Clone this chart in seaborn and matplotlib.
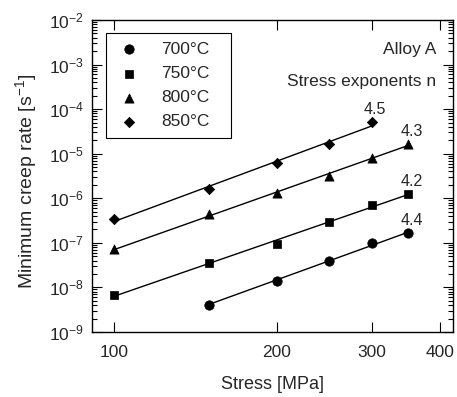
import numpy as np
import pandas as pd
import matplotlib
matplotlib.use("Agg")
import matplotlib.pyplot as plt
import matplotlib.ticker as mticker
import seaborn as sns

# Minimum creep rate vs. applied stress, per test temperature
temps = ["700°C", "750°C", "800°C", "850°C"]
exponents = [4.4, 4.2, 4.3, 4.5]

stress_700 = [150, 200, 250, 300, 350]
rate_700 = [4.1e-9, 1.43e-8, 4.0e-8, 9.8e-8, 1.66e-7]

stress_750 = [100, 150, 200, 250, 300, 350]
rate_750 = [6.8e-9, 3.6e-8, 9.3e-8, 2.9e-7, 7.2e-7, 1.26e-6]

stress_800 = [100, 150, 200, 250, 300, 350]
rate_800 = [7.3e-8, 4.4e-7, 1.3e-6, 3.2e-6, 7.9e-6, 1.66e-5]

stress_850 = [100, 150, 200, 250, 300]
rate_850 = [3.5e-7, 1.65e-6, 6.1e-6, 1.66e-5, 5.2e-5]

stress_sets = [stress_700, stress_750, stress_800, stress_850]
rate_sets = [rate_700, rate_750, rate_800, rate_850]
markers = ["o", "s", "^", "D"]
marker_sizes = [46, 34, 44, 28]

x_ticks = [100, 200, 300, 400]

sns.set_style("ticks")
plt.rcParams["font.family"] = ["Liberation Sans", "DejaVu Sans"]
plt.rcParams["mathtext.fontset"] = "custom"
plt.rcParams["mathtext.rm"] = "Liberation Sans"
plt.rcParams["mathtext.it"] = "Liberation Sans:italic"
plt.rcParams["mathtext.default"] = "regular"

fig = plt.figure(figsize=(4.57, 3.97), dpi=100)
ax = fig.add_axes([0.2013, 0.1637, 0.7899, 0.7859])

for temp, n, xs, ys, mk, ms in zip(temps, exponents, stress_sets, rate_sets,
                                   markers, marker_sizes):
    xs = np.asarray(xs, dtype=float)
    ys = np.asarray(ys, dtype=float)
    # power-law line with the stated stress exponent, intercept fitted in log space
    log_a = np.mean(np.log10(ys) - n * np.log10(xs))
    xl = np.array([xs.min(), xs.max()])
    line_df = pd.DataFrame({"stress": xl, "rate": 10 ** log_a * xl ** n})
    sns.lineplot(data=line_df, x="stress", y="rate", ax=ax, color="black",
                 lw=1.0, legend=False)
    pts = pd.DataFrame({"stress": xs, "rate": ys})
    sns.scatterplot(data=pts, x="stress", y="rate", ax=ax, marker=mk, s=ms,
                    color="black", edgecolor="black", linewidth=0.5,
                    label=temp, zorder=3)
    ax.annotate(f"{n:.1f}", xy=(xs[-1], ys[-1]), xytext=(3, 8),
                textcoords="offset pixels", ha="center", va="baseline",
                fontsize=11.5)

ax.set_xscale("log")
ax.set_yscale("log")
ax.set_xlim(91, 423)
ax.set_ylim(1e-9, 1e-2)

ax.xaxis.set_major_locator(mticker.FixedLocator(x_ticks))
ax.xaxis.set_major_formatter(mticker.FixedFormatter([str(v) for v in x_ticks]))
ax.xaxis.set_minor_locator(mticker.NullLocator())
ax.yaxis.set_major_locator(mticker.LogLocator(base=10, numticks=20))
ax.yaxis.set_minor_locator(mticker.LogLocator(base=10, subs=np.arange(2, 10),
                                              numticks=20))
ax.yaxis.set_minor_formatter(mticker.NullFormatter())

ax.tick_params(which="both", direction="in", top=True, right=True,
               width=0.8, color="black")
ax.tick_params(which="major", length=7, labelsize=12.5, pad=6)
ax.tick_params(which="minor", length=3.5)
ax.tick_params(axis="x", which="major", pad=9)
for sp in ax.spines.values():
    sp.set_linewidth(1.0)
    sp.set_color("black")

ax.set_xlabel("Stress [MPa]", fontsize=13, labelpad=12)
ax.set_ylabel("Minimum creep rate [s$^{-1}$]", fontsize=14)
ax.yaxis.set_label_coords(-0.146, 0.484)

ax.text(0.953, 0.890, "Alloy A", transform=ax.transAxes, ha="right",
        va="baseline", fontsize=12.5)
ax.text(0.953, 0.788, "Stress exponents n", transform=ax.transAxes,
        ha="right", va="baseline", fontsize=12.5)

leg = ax.legend(loc="upper left", bbox_to_anchor=(0.0388, 0.5, 0.346, 0.458),
                mode="expand", fontsize=12.5, frameon=True, fancybox=False,
                framealpha=1, edgecolor="black", borderpad=0.5,
                labelspacing=0.52, handletextpad=1.02, handlelength=1.64,
                borderaxespad=0, markerscale=1.0)
leg.get_frame().set_linewidth(0.8)

fig.savefig("out.png", dpi=100)
